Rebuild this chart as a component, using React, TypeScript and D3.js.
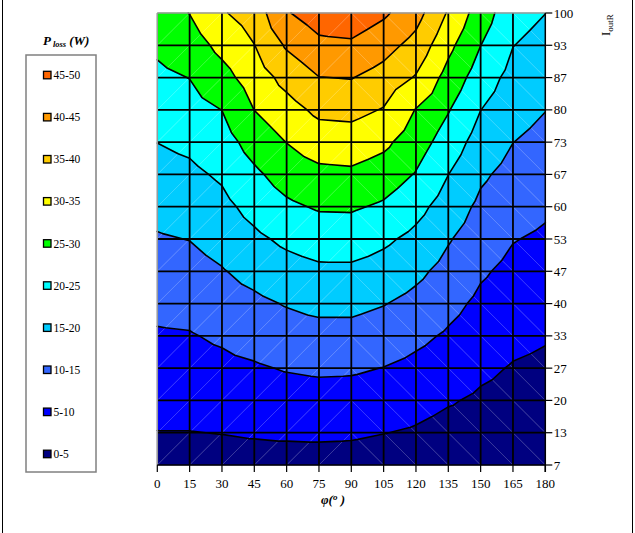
import React from "react";
import * as d3 from "d3";

// φ (degrees) – columns of the surface
const PHI = [0, 15, 30, 45, 60, 75, 90, 105, 120, 135, 150, 165, 180];
// I_outR tick labels – rows of the surface (bottom to top)
const I_LABELS = ["7", "13", "20", "27", "33", "40", "47", "53", "60", "67", "73", "80", "87", "93", "100"];
// P_loss (W), one row per I_outR value (bottom row first), one value per φ
const P_LOSS: number[][] = [
  [3.3, 3.2, 3.2, 3.3, 3.3, 3.3, 3.1, 2.7, 2.3, 1.4, 1.2, 0.6, 0.3],
  [4.9, 4.9, 5.1, 5.4, 5.6, 5.7, 5.6, 5.1, 4.5, 3.4, 2.75, 2.0, 1.55],
  [6.4, 6.5, 6.9, 7.5, 7.9, 8.2, 8.0, 7.5, 6.6, 5.4, 4.3, 3.4, 2.85],
  [8.0, 8.1, 8.8, 9.5, 10.3, 10.7, 10.6, 9.9, 8.8, 7.4, 5.9, 4.7, 4.1],
  [9.5, 9.7, 10.7, 11.8, 12.8, 13.4, 13.4, 12.5, 11.1, 9.4, 7.4, 6.1, 5.4],
  [11.2, 11.5, 12.7, 14.0, 15.3, 16.2, 16.2, 15.2, 13.6, 11.4, 9.0, 7.5, 6.7],
  [12.9, 13.3, 14.7, 16.5, 18.1, 19.1, 19.1, 18.0, 16.1, 13.4, 10.6, 8.8, 8.0],
  [14.6, 15.1, 16.7, 19.0, 21.0, 22.2, 22.3, 20.9, 18.7, 15.4, 12.3, 10.2, 9.3],
  [16.3, 17.0, 18.7, 21.6, 24.1, 25.5, 25.6, 24.3, 21.6, 17.7, 13.95, 11.8, 10.7],
  [18.2, 19.0, 20.7, 24.1, 27.1, 28.8, 29.1, 27.6, 24.7, 20.05, 15.8, 13.4, 12.15],
  [20.05, 21.0, 22.9, 27.0, 30.1, 32.4, 32.7, 31.1, 27.3, 22.7, 17.9, 15.05, 13.6],
  [22.0, 23.0, 25.05, 30.05, 33.1, 36.1, 36.4, 34.7, 29.8, 25.3, 20.05, 16.7, 15.1],
  [23.9, 25.1, 28.25, 32.4, 36.6, 39.9, 40.2, 38.1, 34.6, 28.2, 22.5, 18.4, 16.7],
  [25.9, 27.6, 31.4, 34.9, 40.6, 43.8, 44.2, 41.85, 38.3, 31.3, 25.05, 20.1, 18.4],
  [27.8, 30.1, 34.5, 37.3, 44.6, 47.6, 48.2, 45.8, 41.9, 34.5, 27.5, 21.8, 20.05],
];
// band limits and colours
const LEVELS = [0, 5, 10, 15, 20, 25, 30, 35, 40, 45, 50];
const BAND_COLORS = ["#000080", "#0000FF", "#3366FF", "#00CCFF", "#00FFFF", "#00FF00", "#FFFF00", "#FFCC00", "#FF9900", "#FF6600"];
const BAND_LABELS = ["0-5", "5-10", "10-15", "15-20", "20-25", "25-30", "30-35", "35-40", "40-45", "45-50"];

type P = { x: number; y: number; v: number };

function clipSide(poly: P[], f: (p: P) => number): P[] {
  const out: P[] = [];
  for (let i = 0; i < poly.length; i++) {
    const a = poly[i];
    const b = poly[(i + 1) % poly.length];
    const fa = f(a);
    const fb = f(b);
    if (fa >= 0) out.push(a);
    if ((fa >= 0) !== (fb >= 0)) {
      const t = fa / (fa - fb);
      out.push({ x: a.x + t * (b.x - a.x), y: a.y + t * (b.y - a.y), v: a.v + t * (b.v - a.v) });
    }
  }
  return out;
}

const SERIF = "'Liberation Serif', 'Times New Roman', serif";

export default function App() {
  const W = 635;
  const H = 533;
  const x = d3.scaleLinear().domain([0, 180]).range([157.3, 545.3]);
  const y = d3.scaleLinear().domain([0, I_LABELS.length - 1]).range([465, 13]);

  // build triangles
  const tris: P[][] = [];
  const diags: [P, P][] = [];
  for (let k = 0; k < I_LABELS.length - 1; k++) {
    for (let i = 0; i < PHI.length - 1; i++) {
      const n = (ii: number, kk: number): P => ({ x: x(PHI[ii]), y: y(kk), v: P_LOSS[kk][ii] });
      const bl = n(i, k), br = n(i + 1, k), tl = n(i, k + 1), tr = n(i + 1, k + 1);
      if (PHI[i] < 90) {
        tris.push([bl, br, tr], [bl, tr, tl]);
        diags.push([bl, tr]);
      } else {
        tris.push([bl, br, tl], [br, tr, tl]);
        diags.push([tl, br]);
      }
    }
  }

  const bandPolys: { d: string; c: string }[] = [];
  tris.forEach((t) => {
    for (let b = 0; b < BAND_COLORS.length; b++) {
      const lo = LEVELS[b];
      const hi = LEVELS[b + 1];
      let poly = clipSide(t, (p) => p.v - lo);
      poly = clipSide(poly, (p) => hi - p.v);
      if (poly.length >= 3) {
        bandPolys.push({ d: "M" + poly.map((p) => `${p.x},${p.y}`).join("L") + "Z", c: BAND_COLORS[b] });
      }
    }
  });

  const segs: string[] = [];
  tris.forEach((t) => {
    for (let li = 1; li < LEVELS.length - 1; li++) {
      const L = LEVELS[li];
      const pts: { x: number; y: number }[] = [];
      for (let e = 0; e < 3; e++) {
        const a = t[e];
        const b = t[(e + 1) % 3];
        if ((a.v >= L) !== (b.v >= L)) {
          const tt = (L - a.v) / (b.v - a.v);
          pts.push({ x: a.x + tt * (b.x - a.x), y: a.y + tt * (b.y - a.y) });
        }
      }
      if (pts.length === 2) segs.push(`M${pts[0].x},${pts[0].y}L${pts[1].x},${pts[1].y}`);
    }
  });

  const x0 = x(0), x1 = x(180), yTop = y(I_LABELS.length - 1), yBot = y(0);
  const legendY = (b: number) => 454 - b * 42.1;

  return (
    <svg width={W} height={H} style={{ position: "absolute", left: 0, top: 0, background: "#fff" }} fontFamily={SERIF}>
      <rect x={2.5} y={-2} width={630} height={H + 4} fill="#fff" stroke="#000" strokeWidth={1} />
      {/* surface bands */}
      <g>
        {bandPolys.map((p, i) => (
          <path key={i} d={p.d} fill={p.c} stroke={p.c} strokeWidth={0.6} strokeLinejoin="round" />
        ))}
      </g>
      {/* faint triangle diagonals */}
      <g stroke="#fff" strokeOpacity={0.28} strokeWidth={0.7}>
        {diags.map(([a, b], i) => (
          <line key={i} x1={a.x} y1={a.y} x2={b.x} y2={b.y} />
        ))}
      </g>
      {/* grid */}
      <g stroke="#000" strokeWidth={1.8}>
        {PHI.slice(1, -1).map((p) => (
          <line key={"v" + p} x1={x(p)} x2={x(p)} y1={yTop} y2={yBot} />
        ))}
        {I_LABELS.slice(1, -1).map((_, i) => (
          <line key={"h" + i} x1={x0} x2={x1} y1={y(i + 1)} y2={y(i + 1)} />
        ))}
      </g>
      {/* contour lines */}
      <path d={segs.join("")} fill="none" stroke="#000" strokeWidth={1.6} strokeLinecap="round" />
      {/* frame */}
      <line x1={x0} x2={x1} y1={yTop} y2={yTop} stroke="#999" strokeWidth={1.5} />
      <line x1={x0} x2={x0} y1={yTop} y2={yBot} stroke="#999" strokeWidth={1.5} />
      {/* bottom axis */}
      <line x1={x0} x2={x1} y1={yBot} y2={yBot} stroke="#000" strokeWidth={1.5} />
      {PHI.map((p) => (
        <g key={"xt" + p}>
          <line x1={x(p)} x2={x(p)} y1={yBot} y2={yBot + 7} stroke="#000" strokeWidth={1.2} />
          <text x={x(p)} y={yBot + 23} textAnchor="middle" fontSize={13} fill="#000">
            {p}
          </text>
        </g>
      ))}
      <text x={333} y={504} textAnchor="middle" fontSize={13} fontWeight="bold" fontStyle="italic" fill="#000">
        φ(<tspan dy={-4} fontSize={9}>o</tspan>
        <tspan dy={4}> )</tspan>
      </text>
      {/* right axis */}
      <line x1={x1} x2={x1} y1={yTop} y2={yBot + 7} stroke="#000" strokeWidth={1.5} />
      {I_LABELS.map((l, i) => (
        <g key={"yt" + l}>
          <line x1={x1} x2={x1 + 7} y1={y(i)} y2={y(i)} stroke="#000" strokeWidth={1.2} />
          <text x={x1 + 8.5} y={y(i)} dy="0.35em" fontSize={13} fill="#000">
            {l}
          </text>
        </g>
      ))}
      <text transform="translate(610,36) rotate(-90)" fontSize={13} fill="#000">
        I<tspan dy={3} fontSize={9}>outR</tspan>
      </text>
      {/* legend */}
      <text x={43} y={45} fontSize={13} fontWeight="bold" fontStyle="italic" fill="#000">
        P<tspan dx={2} dy={2} fontSize={8.5}>loss</tspan>
        <tspan dx={3} dy={-2}>(W)</tspan>
      </text>
      <rect x={26} y={55} width={70} height={417} fill="#fff" stroke="#808080" strokeWidth={1.5} />
      {BAND_COLORS.map((c, b) => (
        <g key={"lg" + b}>
          <rect x={43.5} y={legendY(b) - 3.8} width={7.5} height={7.5} fill={c} stroke="#000" strokeWidth={1.3} />
          <text x={53.5} y={legendY(b)} dy="0.35em" fontSize={11.5} fill="#000">
            {BAND_LABELS[b]}
          </text>
        </g>
      ))}
    </svg>
  );
}
